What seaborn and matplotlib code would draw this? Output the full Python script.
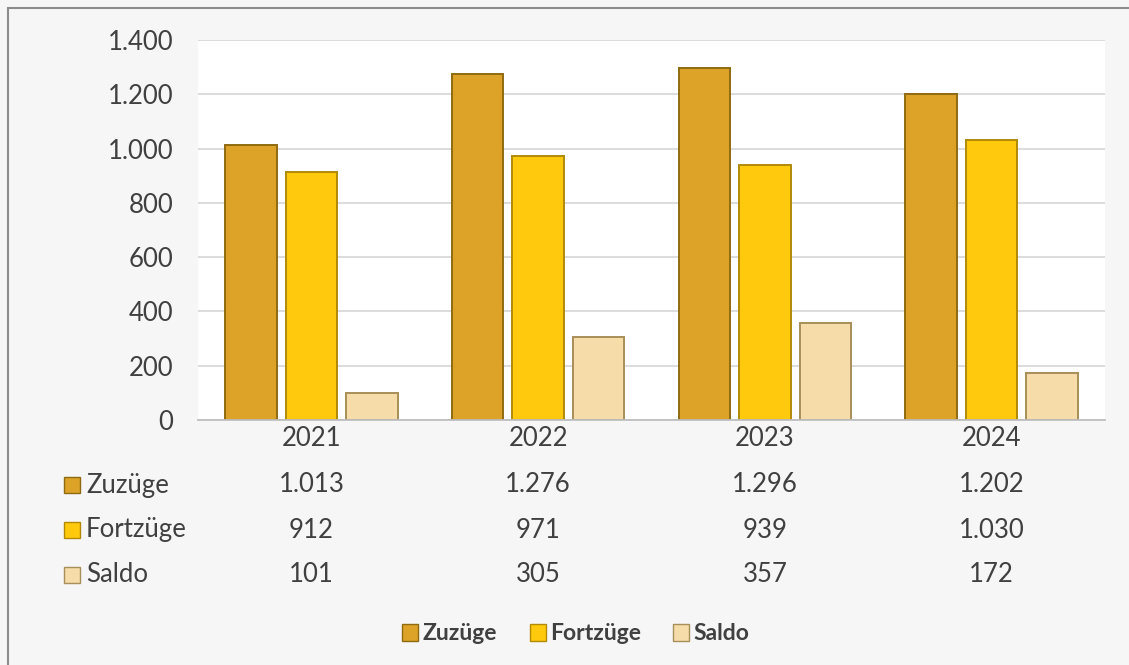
import numpy as np
import pandas as pd
import seaborn as sns
import matplotlib.pyplot as plt
from matplotlib.patches import Rectangle, Patch
from matplotlib.ticker import FuncFormatter
import matplotlib.transforms as mtransforms

years = ['2021', '2022', '2023', '2024']
series = ['Zuzüge', 'Fortzüge', 'Saldo']
zuzuege = [1013, 1276, 1296, 1202]
fortzuege = [912, 971, 939, 1030]
saldo = [101, 305, 357, 172]
colors = ['#DCA328', '#FFC90E', '#F5DCA8']
edges = ['#8F6A10', '#B08A08', '#A88E58']

df = pd.DataFrame({
    'Jahr': years * 3,
    'Serie': [s for s in series for _ in years],
    'Wert': zuzuege + fortzuege + saldo,
})

def de_fmt(v):
    return f'{int(v):,}'.replace(',', '.')

sns.set_style('white')
plt.rcParams['font.family'] = ['Lato', 'DejaVu Sans']
text_col = '#404040'
fs = 18.5

fig = plt.figure(figsize=(11.29, 6.65), dpi=100)
fig.patch.set_facecolor('#F6F6F6')
# outer frame
fig.patches.append(Rectangle((8 / 1129, -0.01), 1.1, 1 - 8 / 665 + 0.01,
                             transform=fig.transFigure, fill=False,
                             edgecolor='#8C8C8C', linewidth=1.5))

ax = fig.add_axes([198 / 1129, 1 - 420 / 665, (1105 - 198) / 1129, 380 / 665])
ax.set_facecolor('white')

sns.barplot(data=df, x='Jahr', y='Wert', hue='Serie', order=years,
            hue_order=series, palette=colors, saturation=1, width=0.8,
            gap=0.15, legend=False, ax=ax)

for i, cont in enumerate(ax.containers):
    for bar in cont:
        bar.set_edgecolor(edges[i])
        bar.set_linewidth(1.4)

ax.set_ylim(0, 1400)
ax.set_yticks(np.arange(0, 1401, 200))
ax.yaxis.set_major_formatter(FuncFormatter(lambda v, p: de_fmt(v)))
ax.grid(axis='y', color='#D9D9D9', linewidth=1.3)
ax.set_axisbelow(True)
for s in ['top', 'right', 'left']:
    ax.spines[s].set_visible(False)
ax.spines['bottom'].set_color('#BFBFBF')
ax.spines['bottom'].set_linewidth(1.3)
ax.tick_params(axis='both', length=0, labelsize=fs, labelcolor=text_col)
ax.tick_params(axis='y', pad=18)
ax.tick_params(axis='x', pad=4)
ax.set_xlabel('')
ax.set_ylabel('')

# data table below the axis
trans = mtransforms.blended_transform_factory(ax.transData, ax.transAxes)
row_px = [485, 530, 575]
for r, (name, vals) in enumerate(zip(series, [zuzuege, fortzuege, saldo])):
    ya = (420 - row_px[r]) / 380
    for j, v in enumerate(vals):
        ax.text(j, ya, de_fmt(v), transform=trans, ha='center',
                va='center', fontsize=fs, color=text_col)
    yf = 1 - row_px[r] / 665
    fig.patches.append(Rectangle((64 / 1129, yf - 8 / 665), 16 / 1129, 16 / 665,
                                 transform=fig.transFigure,
                                 facecolor=colors[r], edgecolor=edges[r],
                                 linewidth=1))
    fig.text(86 / 1129, yf, name, ha='left', va='center', fontsize=fs,
             color=text_col)

handles = [Patch(facecolor=c, edgecolor=e, label=s)
           for c, e, s in zip(colors, edges, series)]
fig.legend(handles=handles, loc='center', bbox_to_anchor=(576 / 1129, 1 - 634 / 665),
           ncol=3, frameon=False, prop={'weight': 'bold', 'size': 16.5},
           labelcolor=text_col, handlelength=0.7, handleheight=0.7,
           handletextpad=0.2, columnspacing=1.4)

fig.savefig('out.png', dpi=100, facecolor=fig.get_facecolor())
